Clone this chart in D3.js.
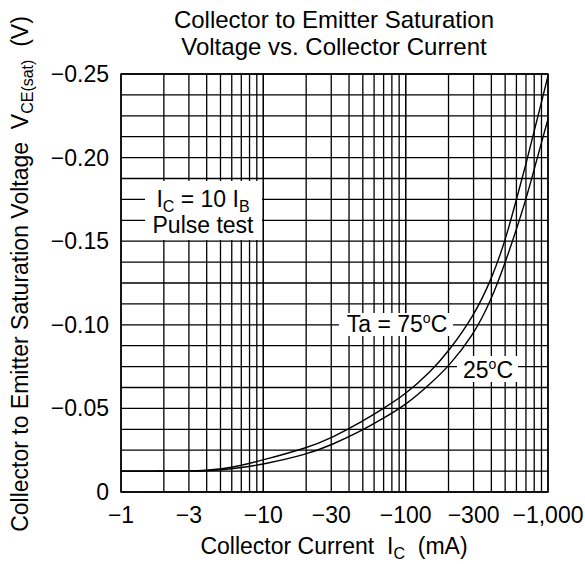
<!DOCTYPE html>
<html lang="en">
<head>
<meta charset="UTF-8">
<title>Collector to Emitter Saturation Voltage vs. Collector Current</title>
<script src="https://d3js.org/d3.v7.min.js"></script>
<style>
  body { margin: 0; background: #fff; }
  svg text { font-family: "Liberation Sans", Arial, sans-serif; fill: #000; white-space: pre; }
</style>
</head>
<body>
<div id="chart"></div>
<script>
    // collector current (mA) and V_CE(sat) (V)
    let current = [-1, -2, -3, -4, -5, -7, -10, -20, -30, -50, -70, -100, -150, -200, -300, -400, -500, -600, -700, -800, -900, -1000],
        v75 = [-0.0125, -0.0125, -0.0126, -0.0130, -0.0137, -0.0158, -0.0192, -0.0262, -0.0322, -0.0423, -0.0500, -0.0585, -0.0720, -0.0840, -0.1050, -0.1270, -0.1500, -0.1750, -0.1960, -0.2160, -0.2330, -0.2490],
        v25 = [-0.0125, -0.0125, -0.0125, -0.0127, -0.0131, -0.0145, -0.0166, -0.0224, -0.0280, -0.0370, -0.0442, -0.0520, -0.0650, -0.0750, -0.0940, -0.1150, -0.1370, -0.1570, -0.1750, -0.1930, -0.2090, -0.2230],
        xTicks = [-1, -3, -10, -30, -100, -300, -1000],
        yTicks = [0, -0.05, -0.10, -0.15, -0.20, -0.25],
        yGridStep = -0.0125;

    let W = 585, H = 564,
        m = {l: 121, r: 548, t: 74, b: 492},
        font = 23, sub = 16;

    let svg = d3.select('#chart').append('svg').attr('width', W).attr('height', H);

    let x = d3.scaleLog().domain([-1, -1000]).range([m.l, m.r]),
        y = d3.scaleLinear().domain([0, -0.25]).range([m.b, m.t]);

    //grille
    let xGrid = [];
    [-1, -10, -100].forEach(dec => {
        for (let k = 1; k <= 10; k++) xGrid.push(dec * k);
    });
    let yGrid = d3.range(0, 21).map(i => i * yGridStep);

    let g = svg.append('g');
    g.selectAll('line.vx').data(xGrid).enter().append('line')
        .attr('x1', d => x(d)).attr('x2', d => x(d))
        .attr('y1', m.t).attr('y2', m.b)
        .attr('stroke', '#000').attr('stroke-width', 1.3);
    g.selectAll('line.hy').data(yGrid).enter().append('line')
        .attr('x1', m.l).attr('x2', m.r)
        .attr('y1', d => y(d)).attr('y2', d => y(d))
        .attr('stroke', '#000').attr('stroke-width', 1.3);
    g.append('rect').attr('x', m.l).attr('y', m.t)
        .attr('width', m.r - m.l).attr('height', m.b - m.t)
        .attr('fill', 'none').attr('stroke', '#000').attr('stroke-width', 1.5);

    //cases blanches des annotations
    [[145, 181, 117, 59], [339, 313, 114, 23], [457, 356, 61, 26]].forEach(r => {
        svg.append('rect').attr('x', r[0]).attr('y', r[1]).attr('width', r[2]).attr('height', r[3]).attr('fill', '#fff');
    });

    //courbes
    let line = d3.line().x(d => x(d[0])).y(d => y(d[1])).curve(d3.curveBasis);
    [v75, v25].forEach(v => {
        svg.append('path')
            .attr('d', line(current.map((c, i) => [c, v[i]])))
            .attr('fill', 'none').attr('stroke', '#000').attr('stroke-width', 1.4);
    });

    //graduations
    svg.selectAll('text.xt').data(xTicks).enter().append('text')
        .attr('x', d => x(d)).attr('y', 523)
        .attr('text-anchor', 'middle').attr('font-size', font)
        .text(d => d3.format(',')(d));
    svg.selectAll('text.yt').data(yTicks).enter().append('text')
        .attr('x', 109).attr('y', d => y(d) + 8)
        .attr('text-anchor', 'end').attr('font-size', font)
        .text(d => d == 0 ? '0' : d3.format('.2f')(d));

    //titres
    let title = svg.append('text').attr('text-anchor', 'middle').attr('font-size', 24);
    title.append('tspan').attr('x', 334).attr('y', 28).text('Collector to Emitter Saturation');
    title.append('tspan').attr('x', 334).attr('y', 55).text('Voltage vs. Collector Current');

    let xl = svg.append('text').attr('x', 334).attr('y', 554).attr('text-anchor', 'middle').attr('font-size', font);
    xl.append('tspan').text('Collector Current  I');
    xl.append('tspan').attr('font-size', sub).attr('dy', 5).text('C');
    xl.append('tspan').attr('dy', -5).text('  (mA)');

    let yl = svg.append('text').attr('transform', 'translate(28,274) rotate(-90)')
        .attr('text-anchor', 'middle').attr('font-size', font);
    yl.append('tspan').text('Collector to Emitter Saturation Voltage  V');
    yl.append('tspan').attr('font-size', sub).attr('dy', 5).text('CE(sat)');
    yl.append('tspan').attr('dy', -5).text('  (V)');

    //annotations
    let a1 = svg.append('text').attr('x', 203).attr('y', 207).attr('text-anchor', 'middle').attr('font-size', font);
    a1.append('tspan').text('I');
    a1.append('tspan').attr('font-size', sub).attr('dy', 5).text('C');
    a1.append('tspan').attr('dy', -5).text(' = 10 I');
    a1.append('tspan').attr('font-size', sub).attr('dy', 5).text('B');
    svg.append('text').attr('x', 203).attr('y', 233).attr('text-anchor', 'middle').attr('font-size', font).text('Pulse test');

    function degLabel(xp, yp, t) {
        let a = svg.append('text').attr('x', xp).attr('y', yp).attr('text-anchor', 'middle').attr('font-size', font);
        a.append('tspan').text(t);
        a.append('tspan').attr('font-size', 14).attr('dy', -9).text('o');
        a.append('tspan').attr('dy', 9).text('C');
    }
    degLabel(397, 332, 'Ta = 75');
    degLabel(488, 378, '25');
</script>
</body>
</html>
